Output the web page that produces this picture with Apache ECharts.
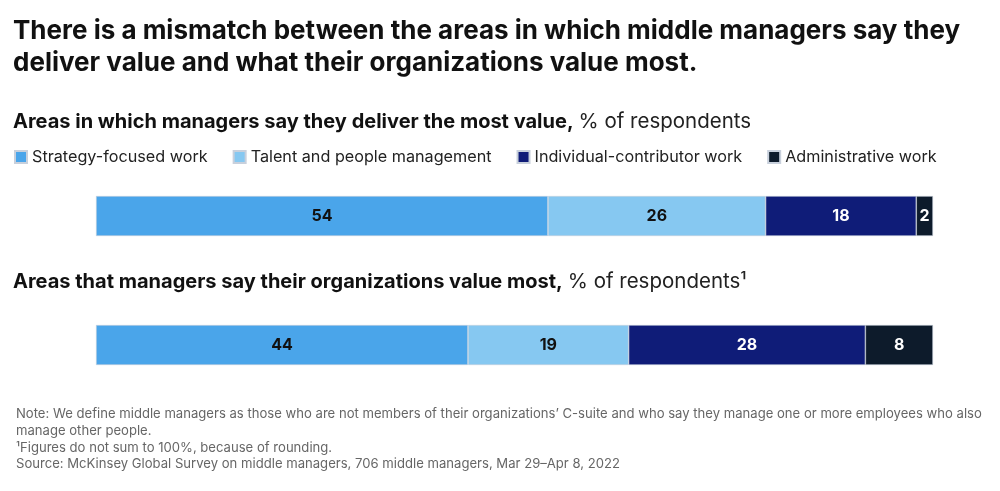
<!DOCTYPE html>
<html><head><meta charset="utf-8">
<script src="https://cdn.jsdelivr.net/npm/echarts@6/dist/echarts.min.js"></script>
<style>html,body{margin:0;padding:0;background:#fff}#c{width:1000px;height:491px}</style>
</head><body><div id="c"></div>
<script>
const categories = ['Strategy-focused work','Talent and people management','Individual-contributor work','Administrative work'];
const deliverValues = [54, 26, 18, 2];
const orgValues = [44, 19, 28, 8];
const colors = ['#4aa5ea','#86c8f1','#0f1c78','#0d1b2b'];
const labelColors = ['#111','#111','#fff','#fff'];
const F = 'Inter, "Liberation Sans", Arial, sans-serif';
const sum = a => a.reduce((s,v)=>s+v,0);
const chart = echarts.init(document.getElementById('c'));
function mk(vals, gi){
  return categories.map((c,i)=>({
    name:c, type:'bar', stack:'s'+gi, xAxisIndex:gi, yAxisIndex:gi,
    data:[vals[i]], barWidth:40,
    itemStyle:{color:colors[i], borderColor:'#c8d0dc', borderWidth:0.6},
    label:{show:true, position:'inside', color:labelColors[i], fontFamily:F, fontSize:16, fontWeight:'bold'}
  }));
}
const sub = {b:{fontFamily:F,fontSize:20,fontWeight:'bold',color:'#111'}, r:{fontFamily:F,fontSize:20.5,fontWeight:'normal',color:'#222'}};
chart.setOption({
  animation:false,
  title:[
    {text:'There is a mismatch between the areas in which middle managers say they\ndeliver value and what their organizations value most.', left:8, top:10,
     textStyle:{fontFamily:F, fontSize:26, fontWeight:'bold', color:'#111', lineHeight:32}},
    {text:'{b|Areas in which managers say they deliver the most value,} {r|% of respondents}', left:8, top:106,
     textStyle:{rich:sub}},
    {text:'{b|Areas that managers say their organizations value most,} {r|% of respondents¹}', left:8, top:266,
     textStyle:{rich:sub}},
    {text:'Note: We define middle managers as those who are not members of their organizations\u2019 C-suite and who say they manage one or more employees who also\nmanage other people.\n¹Figures do not sum to 100%, because of rounding.\nSource: McKinsey Global Survey on middle managers, 706 middle managers, Mar 29\u2013Apr 8, 2022', left:11, top:401,
     textStyle:{fontFamily:F, fontSize:13.1, color:'#666', lineHeight:16.7, fontWeight:'normal'}}
  ],
  legend:{left:9, top:144, icon:'rect', itemWidth:12, itemHeight:12, itemGap:25,
    textStyle:{fontFamily:F, fontSize:16.2, color:'#222', padding:[0,0,0,0]}, data:categories},
  grid:[{left:96, right:67, top:196, height:40},{left:96, right:67, top:325, height:40}],
  xAxis:[
    {gridIndex:0, type:'value', min:0, max:sum(deliverValues), show:false},
    {gridIndex:1, type:'value', min:0, max:sum(orgValues), show:false}],
  yAxis:[
    {gridIndex:0, type:'category', data:['a'], show:false},
    {gridIndex:1, type:'category', data:['b'], show:false}],
  series:[...mk(deliverValues,0), ...mk(orgValues,1)]
});
</script></body></html>
